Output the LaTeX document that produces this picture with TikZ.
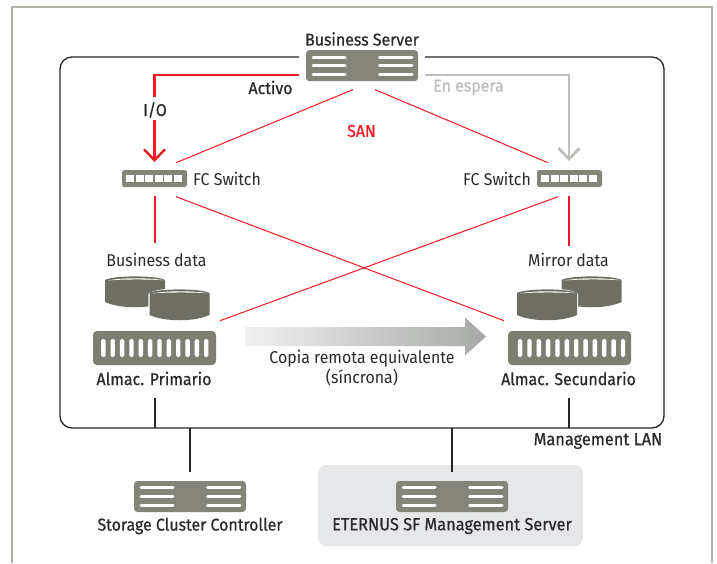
\documentclass[tikz,border=0pt]{standalone}
\usepackage{fontspec}
\setmainfont[FakeStretch=0.93]{Fira Sans}
\newfontfamily\medfont[FakeStretch=0.93,FakeBold=0.6]{Fira Sans}
\usetikzlibrary{arrows.meta,calc}
\definecolor{srvgray}{HTML}{85847B}
\definecolor{arrgray}{HTML}{7E7E73}
\definecolor{cylgray}{HTML}{6E6E64}
\definecolor{fjred}{HTML}{ED1C24}
\definecolor{txtcol}{HTML}{2A2A2E}
\definecolor{stand}{HTML}{BDBDBA}
\definecolor{frameout}{HTML}{B2B2AB}
\definecolor{panel}{HTML}{E6E7E8}
\definecolor{copystart}{HTML}{F1F1F1}
\definecolor{copyend}{HTML}{A6A9A6}
\tikzset{
  lbl/.style={inner sep=0pt,text=txtcol,font=\fontsize{17.1}{19}\selectfont},
  lblm/.style={inner sep=0pt,text=txtcol,font=\fontsize{17.1}{19}\selectfont\medfont},
  lblw/.style={inner sep=0pt,text=txtcol,font=\fontsize{17.6}{19}\selectfont\medfont},
  redthin/.style={draw=fjred,line width=1pt},
  redthick/.style={draw=fjred,line width=2.4pt},
  redvert/.style={draw=fjred,line width=1.8pt},
  graythick/.style={draw=stand,line width=2.6pt},
  lan/.style={draw=black!85,line width=1.3pt},
  bar/.style={line width=3pt,line cap=round,draw=white},
  slot/.style={fill=white,rounded corners=1.6pt},
  srvbody/.style={fill=srvgray,rounded corners=3.5pt,minimum width=112pt,minimum height=31pt,inner sep=0pt},
  swbody/.style={fill=srvgray,rounded corners=2.5pt,minimum width=65pt,minimum height=17pt,inner sep=0pt},
  arrbody/.style={fill=arrgray,rounded corners=4pt,minimum width=123pt,minimum height=34pt,inner sep=0pt},
  headtip/.style={-{Straight Barb[length=11pt,width=21pt]}}
}
\newcommand{\srvicon}[3]{%
  \node[srvbody] (#1) at (#2,#3) {};
  \foreach \dy in {-8.7,0,8.7}{
    \draw[bar] ($(#1.center)+(-49,\dy)$) -- ($(#1.center)+(-17,\dy)$);
    \draw[bar] ($(#1.center)+(17.5,\dy)$) -- ($(#1.center)+(50,\dy)$);
  }}
\newcommand{\swicon}[3]{%
  \node[swbody] (#1) at (#2,#3) {};
  \foreach \i in {0,...,5}{
    \fill[white] ($(#1.center)+(-28.5+\i*9.6,-3.6)$) rectangle ++(8,7.2);
  }}
\newcommand{\arricon}[4]{%
  \node[arrbody] (#1) at (#2,#3) {};
  \foreach \i in {0,...,11}{
    \fill[slot] ($(#1.center)+(#4-53.3+\i*9.35,-9)$) rectangle ++(4.4,18);
  }}
\newcommand{\cylicon}[2]{%
  \begin{scope}[shift={(#1,#2)}]
    \fill[white] (-1.2,5) -- (-1.2,27) -- (61.2,27) -- (61.2,5) .. controls (55,-2.4) and (5,-2.4) .. (-1.2,5) -- cycle;
    \fill[cylgray] (0,4) .. controls (8,-0.8) and (52,-0.8) .. (60,4) -- (60,26)
       .. controls (45,33) and (15,33) .. (0,26) -- cycle;
    \fill[white] (3,4.4) .. controls (18,1.6) and (42,1.6) .. (59,4.2)
       .. controls (42,3.2) and (18,3.2) .. (3,4.4) -- cycle;
  \end{scope}}
\begin{document}
\begin{tikzpicture}[x=1pt,y=-1pt]
\useasboundingbox (0,0) rectangle (717,563);
\fill[white] (0,0) rectangle (717,563);
% outer frame, open at the bottom
\draw[frameout,line width=1.5pt] (12,563) -- (12,7) -- (712,7) -- (712,563);
% grey panel
\fill[panel,rounded corners=8pt] (318,465) rectangle (583,546);
% devices
\srvicon{bs}{362}{65.7}
\srvicon{scc}{190}{496.5}
\srvicon{esf}{452}{496.5}
\swicon{swl}{154.5}{178.5}
\swicon{swr}{569.5}{178.5}
\arricon{arl}{154.5}{348}{0}
\arricon{arr}{569.5}{348}{1.7}
\cylicon{105}{276}
\cylicon{149.5}{289}
\cylicon{561.7}{276}
\cylicon{517}{289}
% free ends
\coordinate (lantl) at (299,57);
\coordinate (lantr) at (425,57);
\coordinate (actA) at (299,75);
\coordinate (actC) at (154.5,75);
\coordinate (stbA) at (425,75);
\coordinate (stbC) at (569,75);
% labels
\node[lblm] (tbs) at (362,39) {Business Server};
\node[lblm] (tact) at (270.5,87.5) {Activo};
\node[lblm,text=stand] (tstb) at (468.5,87.5) {En espera};
\node[lblm] (tio) at (155,110) {I/O};
\node[lblm,text=fjred] (tsan) at (361.5,131) {SAN};
\node[lbl] (tswl) at (227,179) {FC Switch};
\node[lbl] (tswr) at (497,179) {FC Switch};
\node[lbl] (tbd) at (156.5,260) {Business data};
\node[lbl] (tmd) at (568.5,260) {Mirror data};
\node[lblm] (tpri) at (154,378.5) {Almac. Primario};
\node[lblm] (tsec) at (568.5,378.5) {Almac. Secundario};
\node[lbl] (tcop) at (362,359) {Copia remota equivalente};
\node[lbl] (tsin) at (362,378) {(síncrona)};
\node[lblw] (tlan) at (598,441) {Management LAN};
\node[lblm] (tscc) at (190,526) {Storage Cluster Controller};
\node[lblw] (tesf) at (452,526) {ETERNUS SF Management Server};
% LAN loop
\draw[lan,rounded corners=12pt] (lantl) -- (60,57) -- (60,428) -- (664,428) -- (664,57) -- (lantr);
\draw[lan] (155,398) -- (155,428);
\draw[lan] (569,398) -- (569,428);
\draw[lan] (scc.north |- 0,428) -- (190,472);
\draw[lan] (esf.north |- 0,428) -- (452,472);
% SAN lines
\coordinate (sA) at (353,89.6);
\coordinate (sB) at (375,89.6);
\coordinate (sC) at (176,162.7);
\coordinate (sD) at (548,162.7);
\coordinate (sE) at (176,196.7);
\coordinate (sF) at (558,196.7);
\coordinate (sG) at (220,320.7);
\coordinate (sH) at (504,320.7);
\draw[redthin] (sA) -- (sC);
\draw[redthin] (sB) -- (sD);
\draw[redthin] (sE) -- (sH);
\draw[redthin] (sF) -- (sG);
\draw[redvert] (154.7,196) -- (154.7,243);
\draw[redvert] (569,196) -- (569,246);
% active and standby paths
\draw[redthick] (actA) -- (actC) -- (154.5,97);
\draw[redthick,headtip] (154.5,120) -- (154.5,162);
\draw[graythick,headtip] (stbA) -- (stbC) -- (569,161);
% replication arrow
\shade[left color=copystart,right color=copyend,shading angle=90] (245,327) -- (465,327) -- (465,317.5) -- (486,336.5) -- (465,355.5) -- (465,346) -- (245,346) -- cycle;
\end{tikzpicture}
\end{document}
